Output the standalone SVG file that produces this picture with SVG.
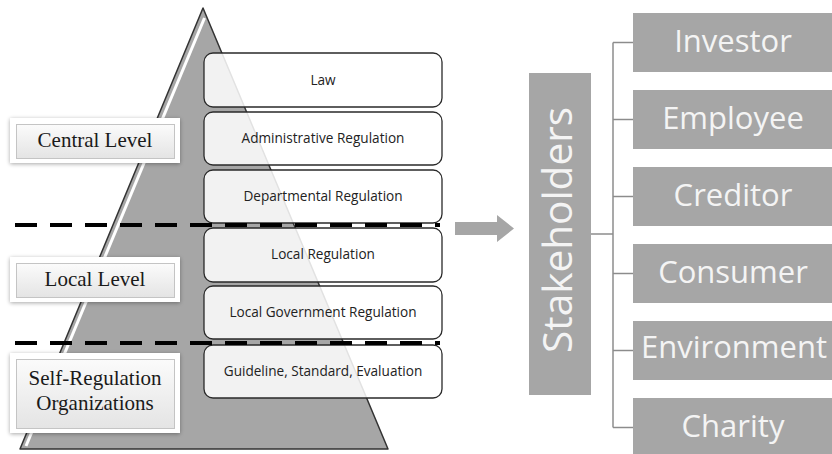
<svg xmlns="http://www.w3.org/2000/svg" width="832" height="454" viewBox="0 0 832 454">
<defs>
<style>
.reg{fill:#ffffff;fill-opacity:0.86;stroke:#2a2a2a;stroke-width:1.3}
.regt{font-family:"Open Sans","Liberation Sans",sans-serif;font-size:13.6px;fill:#222;text-anchor:middle}
.lvlo{fill:#ffffff;filter:url(#sh)}
.lvli{fill:url(#bev);stroke:#c4c4c4;stroke-width:1}
.lvlt{font-family:"Liberation Serif","Times New Roman",serif;font-size:21px;fill:#1a1a1a;text-anchor:middle}
.sb{fill:#a6a6a6}
.sbt{font-family:"Open Sans","Liberation Sans",sans-serif;font-size:31px;fill:#f4f4f4;text-anchor:middle}
.con{stroke:#8c8c8c;stroke-width:1.5;fill:none}
.dash{stroke:#000;stroke-width:4;stroke-dasharray:22 13;fill:none}
</style>
<linearGradient id="bev" x1="0" y1="0" x2="0" y2="1">
<stop offset="0" stop-color="#fbfbfb"/>
<stop offset="1" stop-color="#e4e4e4"/>
</linearGradient>
<filter id="sh" x="-10%" y="-20%" width="120%" height="140%">
<feGaussianBlur in="SourceAlpha" stdDeviation="2"/>
<feOffset dx="0" dy="1" result="b"/>
<feComponentTransfer><feFuncA type="linear" slope="0.35"/></feComponentTransfer>
<feMerge><feMergeNode/><feMergeNode in="SourceGraphic"/></feMerge>
</filter>
</defs>
<rect width="832" height="454" fill="#ffffff"/>

<g id="pyramid">
<polygon points="203,8 388,449 20,449" fill="#a6a6a6" stroke="#333" stroke-width="1.5" stroke-linejoin="round"/>
<line x1="204.5" y1="18" x2="26" y2="446" stroke="#ffffff" stroke-width="3"/>
</g>

<g id="reg-law"><rect class="reg" x="204" y="53" width="238" height="54" rx="9"/><text class="regt" x="323" y="85">Law</text></g>
<g id="reg-admin"><rect class="reg" x="204" y="112" width="238" height="53" rx="9"/><text class="regt" x="323" y="143">Administrative Regulation</text></g>
<g id="reg-dept"><rect class="reg" x="204" y="170" width="238" height="53" rx="9"/><text class="regt" x="323" y="201">Departmental Regulation</text></g>
<g id="reg-local"><rect class="reg" x="204" y="228" width="238" height="54" rx="9"/><text class="regt" x="323" y="259">Local Regulation</text></g>
<g id="reg-localgov"><rect class="reg" x="204" y="286" width="238" height="53" rx="9"/><text class="regt" x="323" y="317">Local Government Regulation</text></g>
<g id="reg-guide"><rect class="reg" x="204" y="345" width="238" height="53" rx="9"/><text class="regt" x="323" y="376">Guideline, Standard, Evaluation</text></g>

<g id="dividers">
<line class="dash" x1="15" y1="225" x2="440" y2="225"/>
<line class="dash" x1="15" y1="343" x2="440" y2="343"/>
</g>

<g id="lvl-central"><rect class="lvlo" x="10" y="118" width="170" height="45"/><rect class="lvli" x="16.5" y="124.5" width="158" height="34"/><text class="lvlt" x="95" y="147">Central Level</text></g>
<g id="lvl-local"><rect class="lvlo" x="10" y="257" width="170" height="45"/><rect class="lvli" x="16.5" y="263.5" width="158" height="34"/><text class="lvlt" x="95" y="286">Local Level</text></g>
<g id="lvl-self"><rect class="lvlo" x="10" y="353" width="170" height="80"/><rect class="lvli" x="16.5" y="359.5" width="158" height="69"/><text class="lvlt" x="95" y="385">Self-Regulation</text><text class="lvlt" x="95" y="410">Organizations</text></g>

<g id="arrow"><polygon points="455,222 497,222 497,215 514,228.5 497,242 497,235 455,235" fill="#a6a6a6"/></g>

<g id="connectors">
<line class="con" x1="591" y1="234" x2="613" y2="234"/>
<line class="con" x1="613" y1="42.5" x2="613" y2="427.5"/>
<line class="con" x1="613" y1="42.5" x2="633" y2="42.5"/>
<line class="con" x1="613" y1="119.5" x2="633" y2="119.5"/>
<line class="con" x1="613" y1="196.5" x2="633" y2="196.5"/>
<line class="con" x1="613" y1="273.5" x2="633" y2="273.5"/>
<line class="con" x1="613" y1="350.5" x2="633" y2="350.5"/>
<line class="con" x1="613" y1="427.5" x2="633" y2="427.5"/>
</g>

<g id="stakeholders"><rect class="sb" x="529" y="73" width="62" height="322"/><text class="sbt" style="font-size:40px" transform="translate(572,230) rotate(-90)" x="0" y="0" textLength="246" lengthAdjust="spacingAndGlyphs">Stakeholders</text></g>

<g id="sh-investor"><rect class="sb" x="633" y="13" width="200" height="59"/><text class="sbt" x="733" y="52">Investor</text></g>
<g id="sh-employee"><rect class="sb" x="633" y="90" width="200" height="59"/><text class="sbt" x="733" y="129">Employee</text></g>
<g id="sh-creditor"><rect class="sb" x="633" y="167" width="200" height="59"/><text class="sbt" x="733" y="206">Creditor</text></g>
<g id="sh-consumer"><rect class="sb" x="633" y="244" width="200" height="59"/><text class="sbt" x="733" y="283">Consumer</text></g>
<g id="sh-environment"><rect class="sb" x="633" y="321" width="200" height="59"/><text class="sbt" x="734" y="358">Environment</text></g>
<g id="sh-charity"><rect class="sb" x="633" y="398" width="200" height="59"/><text class="sbt" x="733" y="437">Charity</text></g>
</svg>
